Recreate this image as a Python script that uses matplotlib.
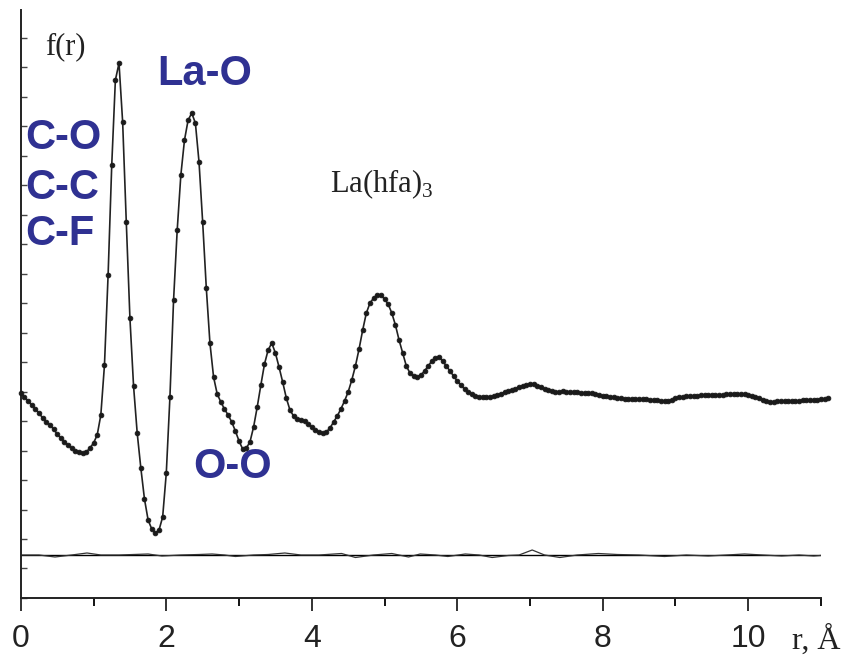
import numpy as np
import matplotlib
matplotlib.use("Agg")
import matplotlib.pyplot as plt
from matplotlib.ticker import MultipleLocator

plt.rcParams['mathtext.fontset'] = 'custom'
plt.rcParams['mathtext.rm'] = 'Liberation Serif'

# radial distribution, sampled every 0.05 A (arbitrary units)
r = np.round(np.arange(223) * 0.05, 2)
f_r = [
    20.5, 20.1, 19.7, 19.3, 18.9, 18.5, 18.0, 17.6, 17.3, 16.9, 16.4, 16.0, 15.6, 15.3, 15.0, 14.7, 14.6, 14.5, 14.6, 15.0,
    15.5, 16.3, 18.3, 23.3, 32.3, 43.3, 51.8, 53.5, 47.6, 37.6, 28.0, 21.2, 16.5, 13.0, 9.9, 7.8, 6.9, 6.5, 6.8, 8.1,
    12.5, 20.1, 29.8, 36.8, 42.3, 45.8, 47.8, 48.5, 47.5, 43.6, 37.6, 31.0, 25.5, 22.1, 20.4, 19.6, 18.9, 18.3, 17.6, 16.7,
    15.7, 14.9, 15.0, 15.6, 17.1, 19.1, 21.3, 23.4, 24.8, 25.5, 24.5, 23.1, 21.6, 20.0, 18.8, 18.2, 17.9, 17.8, 17.7, 17.4,
    17.1, 16.8, 16.6, 16.5, 16.6, 17.0, 17.6, 18.2, 18.9, 19.7, 20.6, 21.8, 23.2, 24.9, 26.8, 28.5, 29.5, 30.0, 30.3, 30.3,
    29.9, 29.4, 28.5, 27.3, 25.8, 24.5, 23.2, 22.5, 22.2, 22.1, 22.3, 22.7, 23.2, 23.7, 24.0, 24.1, 23.7, 23.2, 22.7, 22.2,
    21.7, 21.3, 20.9, 20.6, 20.4, 20.2, 20.1, 20.1, 20.1, 20.1, 20.2, 20.3, 20.4, 20.6, 20.7, 20.8, 20.9, 21.1, 21.2, 21.3,
    21.4, 21.4, 21.2, 21.1, 20.9, 20.8, 20.7, 20.6, 20.6, 20.7, 20.6, 20.6, 20.6, 20.6, 20.5, 20.5, 20.5, 20.5, 20.4, 20.3,
    20.2, 20.2, 20.1, 20.1, 20.0, 20.0, 19.9, 19.9, 19.9, 19.9, 19.9, 19.9, 19.9, 19.8, 19.8, 19.8, 19.7, 19.7, 19.7, 19.8,
    20.0, 20.1, 20.1, 20.2, 20.2, 20.2, 20.2, 20.3, 20.3, 20.3, 20.3, 20.3, 20.3, 20.3, 20.4, 20.4, 20.4, 20.4, 20.4, 20.4,
    20.3, 20.2, 20.1, 20.0, 19.8, 19.7, 19.6, 19.6, 19.7, 19.7, 19.7, 19.7, 19.7, 19.7, 19.7, 19.8, 19.8, 19.8, 19.8, 19.8,
    19.9, 19.9, 20.0,
]

# difference curve (experiment - fit), drawn around its own zero level
diff_zero = 4.3
diff_r = [0, 0.25, 0.47, 0.7, 0.91, 1.1, 1.35, 1.55, 1.75, 1.94,
          2.2, 2.45, 2.63, 2.8, 2.95, 3.2, 3.4, 3.63, 3.85, 4.1,
          4.41, 4.6, 4.85, 5.1, 5.33, 5.49, 5.7, 5.87, 6.11, 6.3,
          6.48, 6.7, 6.85, 7.03, 7.2, 7.41, 7.65, 7.94, 8.2, 8.5,
          8.85, 9.15, 9.45, 9.7, 9.95, 10.2, 10.46, 10.7, 10.9, 11.08]
diff = [0, 0, -0.2, 0, 0.2, 0, 0, 0.05, 0.1, -0.1,
        0, 0.05, 0.1, 0, -0.15, 0, 0.05, 0.2, 0, 0,
        0.15, -0.25, 0, 0.15, -0.2, 0.1, 0, -0.15, 0.1, 0,
        -0.25, -0.05, 0, 0.5, 0, -0.25, 0, 0.15, 0.05, 0,
        -0.15, 0, -0.1, 0, 0.1, 0, -0.1, 0, -0.1, 0]

blue = '#2f3192'

fig = plt.figure(figsize=(8.46, 6.62), dpi=100)
ax = fig.add_axes([0.0246, 0.0967, 0.9458, 0.888])

ax.plot(r, f_r, color='#222222', lw=1.2, clip_on=False, zorder=3)
ax.plot(r, f_r, ls='none', marker='o', ms=3.4, mfc='#1a1a1a', mec='#1a1a1a', mew=0.6,
        clip_on=False, zorder=4)
ax.plot([0, 11.08], [diff_zero, diff_zero], color='black', lw=1.0)
ax.plot(diff_r, np.array(diff) + diff_zero, color='#333333', lw=0.9)

ax.set_xlim(0, 11)
ax.set_ylim(0, 58.8)

for s in ['top', 'right']:
    ax.spines[s].set_visible(False)
for s in ['left', 'bottom']:
    ax.spines[s].set_linewidth(1.4)
    ax.spines[s].set_color('#222222')

ax.xaxis.set_major_locator(MultipleLocator(2))
ax.xaxis.set_minor_locator(MultipleLocator(1))
ax.tick_params(axis='x', which='major', direction='out', length=9, width=1.3,
               labelsize=23, pad=10, colors='#222222')
ax.tick_params(axis='x', which='minor', direction='out', length=6, width=1.3)
for lab in ax.get_xticklabels():
    lab.set_fontfamily('Liberation Sans')

ax.yaxis.set_major_locator(MultipleLocator(2.95))
ax.tick_params(axis='y', which='major', direction='in', length=4, width=1.0,
               labelleft=False, colors='#444444')

serif = 'Liberation Serif'
ax.text(0.33, 55.1, 'f(r)', fontsize=22, family=serif, va='center', ha='left', color='#222222')
ax.text(4.25, 41.4, 'La(hfa)$_3$', fontsize=22, family=serif, va='center', ha='left', color='#222222')
ax.text(10.6, -4.2, 'r, Å', fontsize=23, family=serif, va='center', ha='left', color='#222222', clip_on=False)

bold = dict(fontsize=30, fontweight='bold', family='Liberation Sans', color=blue, va='center', ha='left')
ax.text(0.06, 46.0, 'C-O', **bold)
ax.text(0.06, 41.0, 'C-C', **bold)
ax.text(0.06, 36.4, 'C-F', **bold)
ax.text(1.87, 52.4, 'La-O', **bold)
ax.text(2.37, 13.1, 'O-O', **bold)

fig.savefig('out.png', dpi=100)
